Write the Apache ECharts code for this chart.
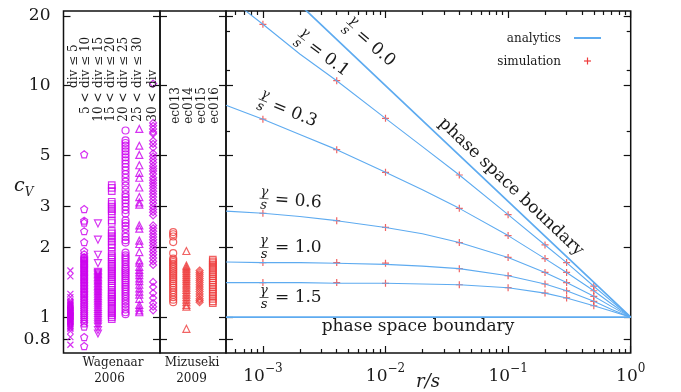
<!DOCTYPE html>
<html>
<head>
<meta charset="utf-8">
<script src="https://cdn.jsdelivr.net/npm/echarts@6/dist/echarts.min.js"></script>
<style>
  html, body { margin: 0; padding: 0; background: #fff; }
  #chart { width: 681px; height: 392px; }
</style>
</head>
<body>
<div id="chart"></div>
<script>
// ---- scales and tick labels ----
const cvMin = 0.7, cvMax = 21;
const cvTicks = [0.8, 1, 2, 3, 5, 10, 20];
const cvTickLabels = ['0.8', '1', '2', '3', '5', '10', '20'];
const cvExtraTicks = [6.37, 11.7, 17.1];
const rMin = 0.0005, rMax = 1;
const rDecades = [-3, -2, -1, 0];

// ---- Wagenaar 2006 (bursting cultures, binned by div) ----
const wagenaarUpper = ['div \u2264 5', 'div \u2264 10', 'div \u2264 15', 'div \u2264 20', 'div \u2264 25', 'div \u2264 30', 'div'];
const wagenaarLower = ['', '5 <', '10 <', '15 <', '20 <', '25 <', '30 <'];
const wagDiv5 = [1.59, 1.50, 1.26, 1.22, 1.18, 1.16, 1.15, 1.14, 1.13, 1.12, 1.11, 1.10, 1.09, 1.08, 1.075, 1.07, 1.065, 1.06, 1.055, 1.05, 1.045, 1.04, 1.035, 1.03, 1.025, 1.02, 1.015, 1.01, 1.005, 1.00, 0.995, 0.99, 0.985, 0.98, 0.975, 0.97, 0.965, 0.96, 0.955, 0.95, 0.94, 0.93, 0.92, 0.91, 0.90, 0.89, 0.87, 0.82, 0.76];
const wagDiv10 = [5.05, 2.93, 2.61, 2.56, 2.35, 2.11, 1.93, 1.87, 1.82, 1.80, 1.78, 1.76, 1.74, 1.72, 1.70, 1.68, 1.66, 1.64, 1.62, 1.60, 1.58, 1.56, 1.54, 1.52, 1.50, 1.48, 1.46, 1.44, 1.42, 1.40, 1.38, 1.36, 1.34, 1.32, 1.30, 1.28, 1.26, 1.24, 1.22, 1.20, 1.18, 1.16, 1.14, 1.12, 1.10, 1.08, 1.06, 1.04, 1.02, 1.00, 0.98, 0.96, 0.94, 0.91, 0.82, 0.75];
const wagDiv15 = [2.54, 2.16, 1.86, 1.71, 1.57, 1.55, 1.53, 1.51, 1.49, 1.47, 1.45, 1.43, 1.41, 1.39, 1.37, 1.35, 1.33, 1.31, 1.29, 1.27, 1.25, 1.23, 1.21, 1.19, 1.17, 1.15, 1.13, 1.11, 1.09, 1.07, 1.05, 1.03, 1.01, 0.99, 0.97, 0.95, 0.93, 0.91, 0.88, 0.85];
const wagDiv20 = [3.72, 3.62, 3.50, 3.15, 3.08, 3.00, 2.93, 2.86, 2.78, 2.62, 2.55, 2.36, 2.30, 2.24, 2.18, 2.12, 2.06, 2.00, 1.92, 1.85, 1.81, 1.77, 1.73, 1.70, 1.67, 1.64, 1.61, 1.58, 1.55, 1.52, 1.49, 1.46, 1.43, 1.40, 1.37, 1.34, 1.31, 1.28, 1.26, 1.24, 1.22, 1.20, 1.18, 1.16, 1.14, 1.12, 1.10, 1.08, 1.06, 1.04, 1.02, 1.00, 0.98];
const wagDiv25 = [6.40, 5.80, 5.65, 5.50, 5.35, 5.20, 5.05, 4.90, 4.75, 4.60, 4.45, 4.30, 4.15, 4.00, 3.85, 3.70, 3.55, 3.40, 3.30, 3.20, 3.10, 3.00, 2.90, 2.80, 2.62, 2.55, 2.48, 2.40, 2.30, 2.22, 2.15, 2.10, 1.90, 1.85, 1.81, 1.77, 1.73, 1.69, 1.65, 1.62, 1.59, 1.56, 1.53, 1.50, 1.47, 1.44, 1.41, 1.38, 1.35, 1.32, 1.29, 1.26, 1.23, 1.20, 1.17, 1.14, 1.11, 1.08, 1.05, 1.03];
const wagDiv30 = [6.50, 5.50, 5.02, 4.53, 4.20, 4.00, 3.63, 3.30, 3.13, 3.06, 2.49, 2.41, 2.14, 2.07, 1.91, 1.76, 1.72, 1.65, 1.60, 1.56, 1.52, 1.47, 1.43, 1.38, 1.33, 1.29, 1.25, 1.20, 1.13, 1.10, 1.07, 1.05];
const wagDivOver30 = [10.2, 6.9, 6.7, 6.5, 6.3, 6.2, 5.78, 5.6, 5.4, 5.1, 4.95, 4.8, 4.66, 4.5, 4.38, 4.28, 4.15, 4.0, 3.9, 3.8, 3.7, 3.6, 3.5, 3.4, 3.3, 3.2, 3.1, 3.0, 2.92, 2.84, 2.75, 2.49, 2.42, 2.35, 2.28, 2.22, 2.16, 2.10, 2.04, 1.98, 1.92, 1.86, 1.80, 1.74, 1.68, 1.42, 1.35, 1.27, 1.21, 1.15, 1.11, 1.07];

// ---- Mizuseki 2009 (hippocampal recordings) ----
const mizusekiSessions = ['ec013', 'ec014', 'ec015', 'ec016'];
const ec013 = [2.33, 2.28, 2.23, 2.11, 1.89, 1.79, 1.76, 1.73, 1.70, 1.67, 1.64, 1.61, 1.58, 1.55, 1.52, 1.49, 1.46, 1.43, 1.40, 1.37, 1.34, 1.31, 1.28, 1.25, 1.22, 1.19, 1.16];
const ec014 = [1.93, 1.67, 1.64, 1.61, 1.58, 1.55, 1.52, 1.49, 1.46, 1.43, 1.40, 1.37, 1.34, 1.31, 1.28, 1.25, 1.22, 1.19, 1.16, 1.13, 1.11, 0.89];
const ec015 = [1.59, 1.56, 1.53, 1.50, 1.47, 1.44, 1.41, 1.38, 1.35, 1.32, 1.29, 1.26, 1.23, 1.20, 1.18, 1.16];
const ec016 = [1.77, 1.74, 1.71, 1.68, 1.65, 1.62, 1.59, 1.56, 1.53, 1.50, 1.47, 1.44, 1.41, 1.38, 1.35, 1.32, 1.29, 1.26, 1.23, 1.20, 1.17, 1.15];

// ---- model: c_V against r/s ----
const gammaLabels = ['0.0', '0.1', '0.3', '0.6', '1.0', '1.5'];
const boundaryR = [0.002, 0.01, 0.1, 1];
const boundaryUpperCv = [22.4, 10.0, 3.16, 1.0];
const boundaryLowerR = [0.0005, 1];
const boundaryLowerCv = [1.0, 1.0];
const analyticR = [0.0005, 0.001, 0.002, 0.004, 0.01, 0.02, 0.04, 0.1, 0.2, 0.3, 0.5, 0.7, 1.0];
const analyticG01 = [24.5, 18.4, 13.7, 10.5, 7.22, 5.45, 4.11, 2.77, 2.05, 1.72, 1.36, 1.17, 1.0];
const analyticG03 = [8.22, 7.16, 6.15, 5.29, 4.22, 3.55, 2.95, 2.25, 1.79, 1.56, 1.30, 1.14, 1.0];
const analyticG06 = [2.87, 2.81, 2.72, 2.61, 2.44, 2.29, 2.10, 1.81, 1.56, 1.41, 1.23, 1.11, 1.0];
const analyticG10 = [1.73, 1.72, 1.72, 1.71, 1.69, 1.66, 1.62, 1.51, 1.39, 1.30, 1.17, 1.08, 1.0];
const analyticG15 = [1.41, 1.41, 1.41, 1.40, 1.40, 1.39, 1.38, 1.34, 1.27, 1.21, 1.12, 1.06, 1.0];
const simR = [0.001, 0.004, 0.01, 0.04, 0.1, 0.2, 0.3, 0.5];
const simG01 = [18.4, 10.5, 7.22, 4.11, 2.77, 2.05, 1.72, 1.36];
const simG03 = [7.16, 5.29, 4.22, 2.95, 2.25, 1.79, 1.56, 1.30];
const simG06 = [2.81, 2.61, 2.44, 2.10, 1.81, 1.56, 1.41, 1.23];
const simG10 = [1.72, 1.72, 1.71, 1.62, 1.51, 1.39, 1.30, 1.17];
const simG15 = [1.41, 1.41, 1.40, 1.38, 1.34, 1.27, 1.21, 1.12];

// ---- styling ----
const SERIF = '"DejaVu Serif", serif';
const INK = '#1a1a1a';
const BLUE = '#5eabf0';
const RED = '#ee3c3c';
const MAGENTA = '#cc00ee';
const L10 = Math.log10;

const SYM = {
  cross: 'path://M0,0L10,10M10,0L0,10',
  pentagon: 'path://M5,0L9.76,3.45L7.94,9.05L2.06,9.05L0.24,3.45Z',
  invTriangle: 'path://M0,0L10,0L5,8.66Z',
  plus: 'path://M5,0L5,10M0,5L10,5'
};

const pairs = (xs, ys) => xs.map((x, i) => [x, ys[i]]);
const column = (vals, idx) => vals.map(v => [idx, v]);

function hollowScatter(name, xi, yi, data, symbol, size, color, width) {
  return {
    name, type: 'scatter', xAxisIndex: xi, yAxisIndex: yi, data, symbol, symbolSize: size,
    itemStyle: { color: 'transparent', borderColor: color, borderWidth: width || 1.2 },
    silent: true, animation: false
  };
}

function curve(name, xs, ys, width) {
  return {
    name, type: 'line', xAxisIndex: 2, yAxisIndex: 6, data: pairs(xs, ys),
    symbol: 'none', showSymbol: false, smooth: false, clip: true,
    lineStyle: { color: BLUE, width }, silent: true, animation: false
  };
}

// axis carrying only ticks (and optionally labels), in log10 units
function tickAxis(o) {
  return {
    type: 'value', gridIndex: o.grid, position: o.position, min: o.min, max: o.max,
    axisLine: { show: false, onZero: false }, splitLine: { show: false },
    axisTick: { show: true, inside: true, length: o.len, customValues: o.ticks,
                lineStyle: { color: '#111', width: 1.2 } },
    axisLabel: o.label || { show: false },
    axisPointer: { show: false }, silent: true
  };
}

const yLo = L10(cvMin), yHi = L10(cvMax);
const xLo = L10(rMin), xHi = L10(rMax);
const cvMajor = cvTicks.map(L10);
const cvMinor = cvExtraTicks.map(L10);
const rMinor = [];
for (let e = -4; e <= -1; e++) {
  for (let k = 2; k <= 9; k++) {
    const v = k * Math.pow(10, e);
    if (v > rMin && v < rMax) rMinor.push(L10(v));
  }
}

const cvLabel = {
  show: true, customValues: cvMajor, margin: 13,
  fontFamily: SERIF, fontSize: 17, color: INK,
  formatter: v => {
    const i = cvMajor.findIndex(t => Math.abs(t - v) < 1e-6);
    return i >= 0 ? cvTickLabels[i] : '';
  }
};
const rLabel = {
  show: true, customValues: rDecades, margin: 10,
  formatter: v => {
    const e = Math.round(v);
    return '{b|10}{e|' + (e < 0 ? '\u2212' + (-e) : String(e)) + '}';
  },
  rich: {
    b: { fontFamily: SERIF, fontSize: 17, color: INK, lineHeight: 22, verticalAlign: 'bottom' },
    e: { fontFamily: SERIF, fontSize: 12, color: INK, lineHeight: 10, verticalAlign: 'top' }
  }
};

const gridBase = { show: true, borderColor: '#111', borderWidth: 1.5, backgroundColor: 'transparent', containLabel: false, top: 11, height: 342 };

// ---- text helpers ----
function text(x, y, str, o = {}) {
  return {
    type: 'text', x, y, rotation: (o.rot || 0) * Math.PI / 180, silent: true, z: 10,
    style: {
      text: str, fill: INK,
      font: (o.italic ? 'italic ' : '') + (o.size || 17) + 'px ' + SERIF,
      align: o.align || 'center', verticalAlign: o.va || 'middle'
    }
  };
}
function gammaLabel(x, y, deg, value) {
  return {
    type: 'group', x, y, rotation: -deg * Math.PI / 180, silent: true, z: 10,
    children: [
      { type: 'text', x: 0, y: -6, style: { text: '\u03b3', fill: INK, font: 'italic 13px ' + SERIF, align: 'center', verticalAlign: 'middle' } },
      { type: 'line', shape: { x1: -4.5, y1: 0.5, x2: 4.5, y2: 0.5 }, style: { stroke: INK, lineWidth: 0.7 } },
      { type: 'text', x: 0, y: 7.5, style: { text: 's', fill: INK, font: 'italic 13px ' + SERIF, align: 'center', verticalAlign: 'middle' } },
      { type: 'text', x: 11, y: 1, style: { text: '= ' + value, fill: INK, font: '17px ' + SERIF, align: 'left', verticalAlign: 'middle' } }
    ]
  };
}

const wagLabelX = [74, 86, 98.7, 111.3, 124.3, 137.7, 153.3];
const ecLabelX = [175.7, 189, 202.3, 215];

const graphics = [];
wagenaarUpper.forEach((s, i) => {
  graphics.push(text(wagLabelX[i], 88, s, { size: 12, rot: 90, align: 'left' }));
  if (wagenaarLower[i]) graphics.push(text(wagLabelX[i], 92.5, wagenaarLower[i], { size: 12, rot: 90, align: 'right' }));
});
mizusekiSessions.forEach((s, i) => graphics.push(text(ecLabelX[i], 87, s, { size: 12, rot: 90, align: 'right' })));
graphics.push(text(113, 362.5, 'Wagenaar', { size: 12 }));
graphics.push(text(109.5, 379, '2006', { size: 12 }));
graphics.push(text(192, 362.5, 'Mizuseki', { size: 12 }));
graphics.push(text(191.5, 379, '2009', { size: 12 }));
graphics.push({
  type: 'text', x: 14, y: 188, silent: true, z: 10,
  style: {
    text: '{c|c}{v|V}', align: 'left', verticalAlign: 'middle',
    rich: {
      c: { fontFamily: SERIF, fontStyle: 'italic', fontSize: 19, fill: INK, lineHeight: 22, verticalAlign: 'top' },
      v: { fontFamily: SERIF, fontStyle: 'italic', fontSize: 12, fill: INK, lineHeight: 12, verticalAlign: 'bottom' }
    }
  }
});
graphics.push(text(428, 382, 'r/s', { size: 18, italic: true }));
graphics.push(gammaLabel(350, 25, 41, gammaLabels[0]));
graphics.push(gammaLabel(301.5, 37.5, 37, gammaLabels[1]));
graphics.push(gammaLabel(263, 100, 22, gammaLabels[2]));
graphics.push(gammaLabel(264, 198, 4, gammaLabels[3]));
graphics.push(gammaLabel(264, 247, 0, gammaLabels[4]));
graphics.push(gammaLabel(264, 297, 0, gammaLabels[5]));
graphics.push(text(511, 187, 'phase space boundary', { rot: -43.4 }));
graphics.push(text(321.7, 327, 'phase space boundary', { align: 'left' }));
// key
graphics.push(text(561, 39, 'analytics', { size: 12, align: 'right' }));
graphics.push({ type: 'line', silent: true, shape: { x1: 574, y1: 38, x2: 601, y2: 38 }, style: { stroke: BLUE, lineWidth: 2 } });
graphics.push(text(561, 62, 'simulation', { size: 12, align: 'right' }));
graphics.push({ type: 'line', silent: true, shape: { x1: 587.5, y1: 57.5, x2: 587.5, y2: 64.5 }, style: { stroke: RED, lineWidth: 1.2 } });
graphics.push({ type: 'line', silent: true, shape: { x1: 584, y1: 61, x2: 591, y2: 61 }, style: { stroke: RED, lineWidth: 1.2 } });

const option = {
  backgroundColor: '#fff',
  animation: false,
  grid: [
    Object.assign({}, gridBase, { left: 63.5, width: 96.5 }),
    Object.assign({}, gridBase, { left: 160, width: 66 }),
    Object.assign({}, gridBase, { left: 226, width: 404.7 })
  ],
  xAxis: [
    { gridIndex: 0, type: 'value', min: -0.5, max: 6.5, show: false, axisLine: { onZero: false } },
    { gridIndex: 1, type: 'value', min: -1, max: 4, show: false, axisLine: { onZero: false } },
    { gridIndex: 2, type: 'log', min: rMin, max: rMax, show: false, axisLine: { onZero: false } },
    tickAxis({ grid: 2, position: 'bottom', min: xLo, max: xHi, len: 7, ticks: rDecades, label: rLabel }),
    tickAxis({ grid: 2, position: 'bottom', min: xLo, max: xHi, len: 4, ticks: rMinor }),
    tickAxis({ grid: 2, position: 'top', min: xLo, max: xHi, len: 7, ticks: rDecades }),
    tickAxis({ grid: 2, position: 'top', min: xLo, max: xHi, len: 4, ticks: rMinor })
  ],
  yAxis: [
    { gridIndex: 0, type: 'log', min: cvMin, max: cvMax, show: false, axisLine: { onZero: false } },
    tickAxis({ grid: 0, position: 'left', min: yLo, max: yHi, len: 7, ticks: cvMajor, label: cvLabel }),
    tickAxis({ grid: 0, position: 'right', min: yLo, max: yHi, len: 7, ticks: cvMajor }),
    { gridIndex: 1, type: 'log', min: cvMin, max: cvMax, show: false, axisLine: { onZero: false } },
    tickAxis({ grid: 1, position: 'left', min: yLo, max: yHi, len: 7, ticks: cvMajor }),
    tickAxis({ grid: 1, position: 'right', min: yLo, max: yHi, len: 7, ticks: cvMajor }),
    { gridIndex: 2, type: 'log', min: cvMin, max: cvMax, show: false, axisLine: { onZero: false } },
    tickAxis({ grid: 2, position: 'left', min: yLo, max: yHi, len: 7, ticks: cvMajor }),
    tickAxis({ grid: 2, position: 'left', min: yLo, max: yHi, len: 4, ticks: cvMinor }),
    tickAxis({ grid: 2, position: 'right', min: yLo, max: yHi, len: 7, ticks: cvMajor }),
    tickAxis({ grid: 2, position: 'right', min: yLo, max: yHi, len: 4, ticks: cvMinor })
  ],
  series: [
    hollowScatter('div \u2264 5', 0, 0, column(wagDiv5, 0), SYM.cross, 6, MAGENTA),
    hollowScatter('5 < div \u2264 10', 0, 0, column(wagDiv10, 1), SYM.pentagon, 7, MAGENTA),
    hollowScatter('10 < div \u2264 15', 0, 0, column(wagDiv15, 2), SYM.invTriangle, 7, MAGENTA),
    hollowScatter('15 < div \u2264 20', 0, 0, column(wagDiv20, 3), 'rect', 6.5, MAGENTA),
    hollowScatter('20 < div \u2264 25', 0, 0, column(wagDiv25, 4), 'circle', 7, MAGENTA),
    hollowScatter('25 < div \u2264 30', 0, 0, column(wagDiv30, 5), 'triangle', 7, MAGENTA),
    hollowScatter('30 < div', 0, 0, column(wagDivOver30, 6), 'diamond', 7, MAGENTA),
    hollowScatter('ec013', 1, 3, column(ec013, 0), 'circle', 7, RED),
    hollowScatter('ec014', 1, 3, column(ec014, 1), 'triangle', 7, RED),
    hollowScatter('ec015', 1, 3, column(ec015, 2), 'diamond', 7, RED),
    hollowScatter('ec016', 1, 3, column(ec016, 3), 'rect', 6.5, RED),
    curve('phase space boundary', boundaryR, boundaryUpperCv, 1.7),
    curve('phase space boundary', boundaryLowerR, boundaryLowerCv, 1.7),
    curve('analytics', analyticR, analyticG01, 1.1),
    curve('analytics', analyticR, analyticG03, 1.1),
    curve('analytics', analyticR, analyticG06, 1.1),
    curve('analytics', analyticR, analyticG10, 1.1),
    curve('analytics', analyticR, analyticG15, 1.1),
    hollowScatter('simulation', 2, 6, pairs(simR, simG01), SYM.plus, 7, RED),
    hollowScatter('simulation', 2, 6, pairs(simR, simG03), SYM.plus, 7, RED),
    hollowScatter('simulation', 2, 6, pairs(simR, simG06), SYM.plus, 7, RED),
    hollowScatter('simulation', 2, 6, pairs(simR, simG10), SYM.plus, 7, RED),
    hollowScatter('simulation', 2, 6, pairs(simR, simG15), SYM.plus, 7, RED)
  ],
  graphic: graphics
};

const chart = echarts.init(document.getElementById('chart'), null, { renderer: 'canvas' });
chart.setOption(option);
</script>
</body>
</html>
